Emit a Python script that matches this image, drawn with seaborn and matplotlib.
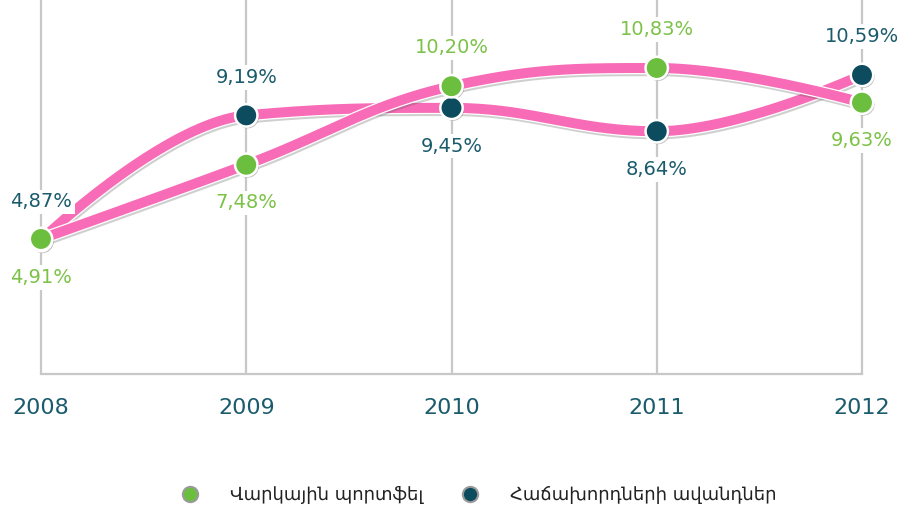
import numpy as np
import pandas as pd
import matplotlib
matplotlib.use("Agg")
import matplotlib.pyplot as plt
import matplotlib.patheffects as pe
from matplotlib.lines import Line2D
import seaborn as sns

years = [2008, 2009, 2010, 2011, 2012]
loan_portfolio = [4.91, 7.48, 10.20, 10.83, 9.63]      # Վարկային պորտֆել
deposits = [4.87, 9.19, 9.45, 8.64, 10.59]              # Հաճախորդների ավանդներ
series_names = ["Վարկային պորտֆել", "Հաճախորդների ավանդներ"]
label_pos_loan = ["below", "below", "above", "above", "below"]
label_pos_dep = ["above", "above", "below", "below", "above"]

GREEN = "#6cbf3e"
GREEN_TXT = "#7cc247"
TEAL = "#0c4c5e"
TEAL_TXT = "#1a5b6c"
PINK = "#f86bb6"
GRID = "#c8c8c8"

sns.set_style("white")
plt.rcParams["font.family"] = ["DejaVu Sans"]

# deposits rows first so the loan-portfolio markers are drawn on top
df = pd.DataFrame({
    "year": years * 2,
    "value": deposits + loan_portfolio,
    "series": [series_names[1]] * 5 + [series_names[0]] * 5,
})


def hc_spline(xs, ys, smoothing=1.5, n=60):
    """Highcharts-style spline through data points, returns dense curve."""
    xs = np.asarray(xs, float)
    ys = np.asarray(ys, float)
    m = len(xs)
    left = [(xs[i], ys[i]) for i in range(m)]
    right = [(xs[i], ys[i]) for i in range(m)]
    d = smoothing + 1
    for i in range(1, m - 1):
        px, py = xs[i], ys[i]
        lx, ly = xs[i - 1], ys[i - 1]
        nx, ny = xs[i + 1], ys[i + 1]
        lcx = (smoothing * px + lx) / d
        lcy = (smoothing * py + ly) / d
        rcx = (smoothing * px + nx) / d
        rcy = (smoothing * py + ny) / d
        if rcx != lcx:
            corr = ((rcy - lcy) * (rcx - px)) / (rcx - lcx) + py - rcy
            lcy += corr
            rcy += corr
        if lcy > ly and lcy > py:
            lcy = max(ly, py)
            rcy = 2 * py - lcy
        elif lcy < ly and lcy < py:
            lcy = min(ly, py)
            rcy = 2 * py - lcy
        if rcy > ny and rcy > py:
            rcy = max(ny, py)
            lcy = 2 * py - rcy
        elif rcy < ny and rcy < py:
            rcy = min(ny, py)
            lcy = 2 * py - rcy
        left[i] = (lcx, lcy)
        right[i] = (rcx, rcy)
    t = np.linspace(0, 1, n)[:, None]
    pts = []
    for i in range(m - 1):
        p0 = np.array([xs[i], ys[i]])
        p1 = np.array(right[i])
        p2 = np.array(left[i + 1])
        p3 = np.array([xs[i + 1], ys[i + 1]])
        seg = ((1 - t) ** 3) * p0 + 3 * ((1 - t) ** 2) * t * p1 + 3 * (1 - t) * t ** 2 * p2 + t ** 3 * p3
        pts.append(seg if i == 0 else seg[1:])
    pts = np.vstack(pts)
    return pts[:, 0], pts[:, 1]


fig = plt.figure(figsize=(9.02, 5.11), dpi=100)
ax = fig.add_axes([41 / 902, 137 / 511, (862 - 41) / 902, 374 / 511])
ax.set_xlim(2008, 2012)
ax.set_ylim(0.236, 13.184)
ax.set_facecolor("white")

for s in ["top", "right", "left"]:
    ax.spines[s].set_visible(False)
ax.spines["bottom"].set_color(GRID)
ax.spines["bottom"].set_linewidth(1.6)
ax.spines["bottom"].set_zorder(1)

ax.set_xticks(years)
ax.set_xticklabels([str(y) for y in years], fontsize=16, color=TEAL_TXT)
ax.tick_params(axis="x", length=0, pad=17)
ax.set_yticks([])
for y in years:
    ax.axvline(y, color=GRID, lw=1.6, zorder=1, clip_on=False)

line_fx = [
    pe.Stroke(offset=(0.6, -1.3), linewidth=9.2, foreground="#555555", alpha=0.28),
    pe.Stroke(linewidth=9.0, foreground="white"),
    pe.Normal(),
]
# deposits drawn first, loan portfolio on top (as in the reference crossing)
for i, vals in enumerate((deposits, loan_portfolio)):
    cx, cy = hc_spline(years, vals)
    ax.plot(cx, cy, color=PINK, lw=7.2, solid_capstyle="butt", zorder=3 + i * 0.1,
            path_effects=line_fx, clip_on=False)

mk_fx = [pe.SimplePatchShadow(offset=(1.0, -1.3), shadow_rgbFace="#555555", alpha=0.35), pe.Normal()]
sns.scatterplot(data=df, x="year", y="value", hue="series",
                palette={series_names[0]: GREEN, series_names[1]: TEAL},
                s=260, edgecolor="white", linewidth=1.8, zorder=5, legend=False,
                ax=ax, clip_on=False)
for coll in ax.collections:
    coll.set_path_effects(mk_fx)

def add_labels(vals, positions, color):
    for x, v, p in zip(years, vals, positions):
        off = 27.5 if p == "above" else -27.5
        ax.annotate(f"{v:.2f}".replace(".", ",") + "%", (x, v),
                    xytext=(0, off), textcoords="offset points",
                    ha="center", va="center", fontsize=14, color=color, zorder=6,
                    bbox=dict(boxstyle="square,pad=0.15", fc="white", ec="none"),
                    annotation_clip=False)

add_labels(loan_portfolio, label_pos_loan, GREEN_TXT)
add_labels(deposits, label_pos_dep, TEAL_TXT)

ax.set_xlabel("")
ax.set_ylabel("")

handles = [
    Line2D([], [], marker="o", linestyle="none", markersize=11, markerfacecolor=GREEN,
           markeredgecolor="#9a9a9a", markeredgewidth=1.5),
    Line2D([], [], marker="o", linestyle="none", markersize=11, markerfacecolor=TEAL,
           markeredgecolor="#9a9a9a", markeredgewidth=1.5),
]
fig.legend(handles, series_names, loc="center", bbox_to_anchor=(0.526, 0.031), ncol=2,
           frameon=False, fontsize=13, handletextpad=1.2, columnspacing=1.6,
           labelcolor="#222222")

fig.savefig("out.png", dpi=100, facecolor="white")
